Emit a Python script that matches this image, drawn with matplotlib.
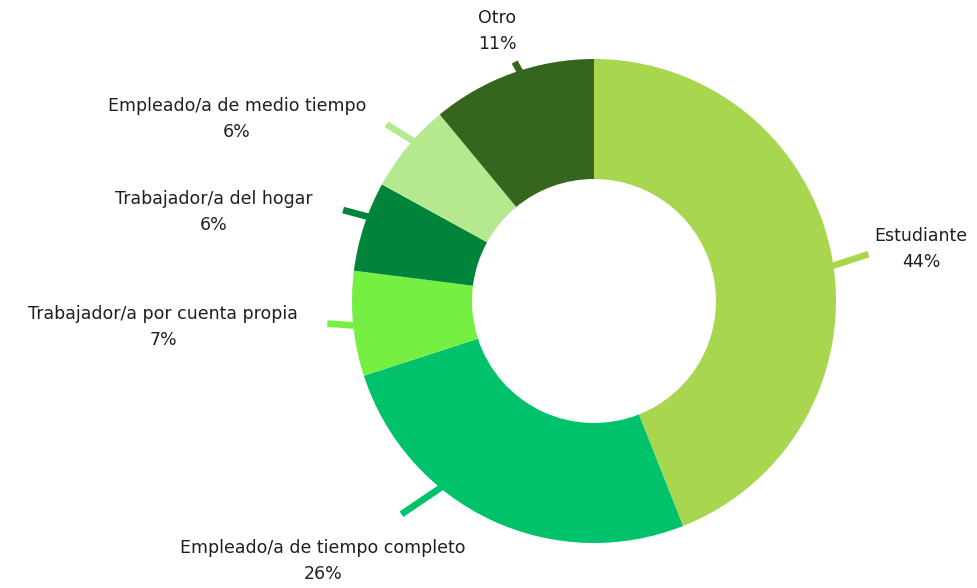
import numpy as np
import matplotlib
matplotlib.use("Agg")
import matplotlib.pyplot as plt

# ---- data ----
categories = ["Estudiante", "Empleado/a de tiempo completo", "Trabajador/a por cuenta propia",
              "Trabajador/a del hogar", "Empleado/a de medio tiempo", "Otro"]
values = [44, 26, 7, 6, 6, 11]
colors = ["#A8D74F", "#00C26A", "#75EF42", "#00833A", "#B6E98F", "#36661E"]

# ---- layout (pixels, y downward) ----
W, H = 977, 588
center_px = (594, 301)
R_out, ring_w = 242, 120
# label centre (x, y of first line), stub angle shift, stub direction (deg), stub length
label_pos = [(921, 236), (323, 548), (163, 314), (214, 199), (237, 106), (497, 18)]
stub_shift = [-2.5, -14, 0.5, -2.5, -2, -2]
stub_dir = [18, 214, 176, 165, 148, 119]
stub_len = [40, 50, 29, 28, 34, 13]
line_gap = 26

fig = plt.figure(figsize=(W / 100, H / 100), dpi=100)
ax = fig.add_axes([0, 0, 1, 1])
cx, cy = center_px[0], H - center_px[1]

wedges, _ = ax.pie(values, colors=colors, startangle=90, counterclock=False,
                   center=(cx, cy), radius=R_out,
                   wedgeprops=dict(width=ring_w, linewidth=0))

total = float(sum(values))
cum = 0.0
for i, v in enumerate(values):
    mid = 90 - (cum + v / 2) / total * 360
    cum += v
    a = np.deg2rad(mid + stub_shift[i])
    x0 = cx + (R_out - 3) * np.cos(a)
    y0 = cy + (R_out - 3) * np.sin(a)
    d = np.deg2rad(stub_dir[i])
    x1 = x0 + stub_len[i] * np.cos(d)
    y1 = y0 + stub_len[i] * np.sin(d)
    ax.plot([x0, x1], [y0, y1], color=colors[i], lw=4.8, solid_capstyle="butt", zorder=1)
    lx, ly = label_pos[i]
    ax.text(lx, H - ly, categories[i], ha="center", va="center", fontsize=12.5,
            color="#1f1f1f", family="DejaVu Sans")
    ax.text(lx, H - ly - line_gap, f"{v}%", ha="center", va="center", fontsize=12.5,
            color="#1f1f1f", family="DejaVu Sans")

ax.set_xlim(0, W)
ax.set_ylim(0, H)
ax.set_aspect("equal")
ax.axis("off")
fig.savefig("out.png", dpi=100, facecolor="white")
